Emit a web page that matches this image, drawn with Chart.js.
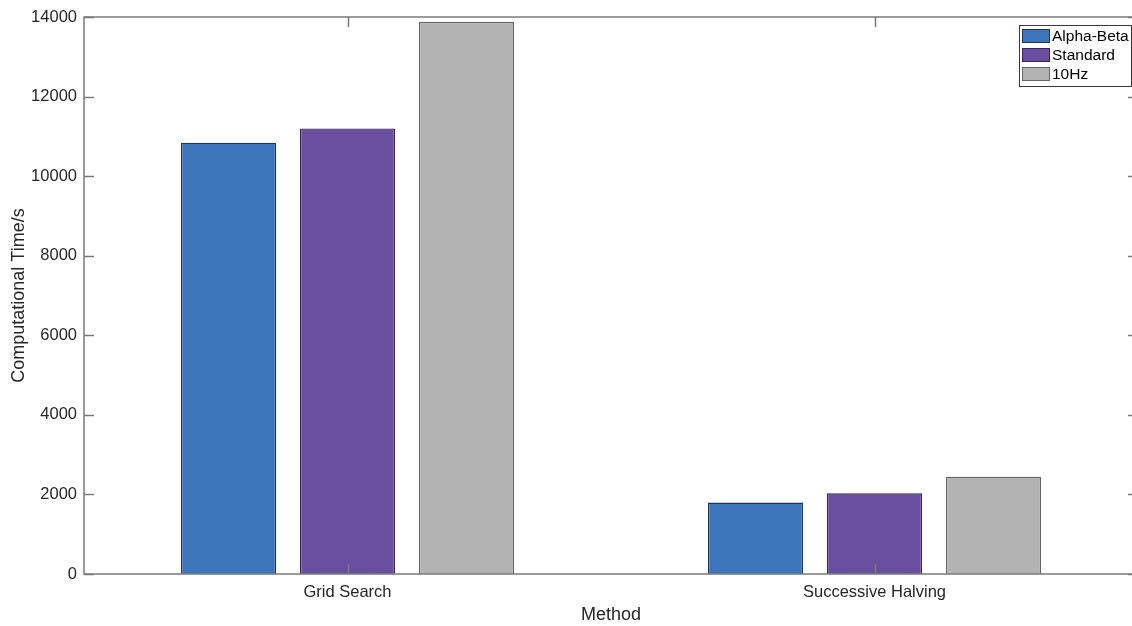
<!DOCTYPE html>
<html>
<head>
<meta charset="utf-8">
<script src="https://cdn.jsdelivr.net/npm/chart.js@4.4.0/dist/chart.umd.min.js"></script>
<style>
  html, body { margin: 0; padding: 0; overflow: hidden; background: #fff; }
  canvas { display: block; }
</style>
</head>
<body>
<canvas id="myDiagram" width="1150" height="626"></canvas>
<script>
const categories = ['Grid Search', 'Successive Halving'];
const seriesNames = ['Alpha-Beta', 'Standard', '10Hz'];
const alphaBeta = [10840, 1795];
const standard = [11200, 2030];
const tenHz = [13880, 2445];
const yTicks = [0, 2000, 4000, 6000, 8000, 10000, 12000, 14000];

const FONT = '"Liberation Sans", Arial, Helvetica, sans-serif';
const TEXT = '#262626';
const AXIS = '#7a7a7a';

// box around the axes with inward tick marks on all four sides (matlab style)
const axesBox = {
    id: 'axesBox',
    afterDatasetsDraw(chart) {
        const {ctx, chartArea: a, scales} = chart;
        const tick = 10;
        ctx.save();
        ctx.strokeStyle = AXIS;
        ctx.lineWidth = 1.5;
        ctx.strokeRect(a.left, a.top, a.right - a.left, a.bottom - a.top);
        ctx.beginPath();
        yTicks.forEach(v => {
            const y = Math.round(scales.y.getPixelForValue(v)) + 0.5;
            ctx.moveTo(a.left, y); ctx.lineTo(a.left + tick, y);
            ctx.moveTo(a.right, y); ctx.lineTo(a.right - tick, y);
        });
        categories.forEach((c, i) => {
            const x = Math.round(scales.x.getPixelForValue(i)) + 0.5;
            ctx.moveTo(x, a.bottom); ctx.lineTo(x, a.bottom - tick);
            ctx.moveTo(x, a.top); ctx.lineTo(x, a.top + tick);
        });
        ctx.stroke();
        ctx.restore();
    },
    afterDraw(chart) {
        // legend in the upper right corner, inside the axes
        const {ctx, chartArea: a} = chart;
        const sets = chart.data.datasets;
        const boxRight = 1131, boxTop = a.top + 8;
        const boxLeft = 1019, rowH = 19;
        const boxBottom = boxTop + sets.length * rowH + 4;
        ctx.save();
        ctx.fillStyle = '#fff';
        ctx.fillRect(boxLeft, boxTop, boxRight - boxLeft, boxBottom - boxTop);
        ctx.strokeStyle = '#3a3a3a';
        ctx.lineWidth = 1;
        ctx.strokeRect(boxLeft + 0.5, boxTop + 0.5, boxRight - boxLeft, boxBottom - boxTop);
        ctx.font = '15.5px ' + FONT;
        ctx.textBaseline = 'middle';
        sets.forEach((ds, i) => {
            const cy = boxTop + 11 + i * rowH;
            ctx.fillStyle = ds.backgroundColor;
            ctx.fillRect(boxLeft + 3, cy - 7, 28, 14);
            ctx.strokeStyle = ds.borderColor;
            ctx.strokeRect(boxLeft + 3.5, cy - 6.5, 27, 13);
            ctx.fillStyle = '#000';
            ctx.fillText(ds.label, boxLeft + 33, cy + 1);
        });
        ctx.restore();
    }
};

const ctx = document.getElementById('myDiagram').getContext('2d');
const myChart = new Chart(ctx, {
    type: 'bar',
    data: {
        labels: categories,
        datasets: [
            { label: seriesNames[0], data: alphaBeta, backgroundColor: '#3d75bb', borderColor: '#1f355c' },
            { label: seriesNames[1], data: standard, backgroundColor: '#6a4fa0', borderColor: '#35255e' },
            { label: seriesNames[2], data: tenHz, backgroundColor: '#b3b3b3', borderColor: '#666666' }
        ].map(d => Object.assign(d, {
            borderWidth: 1.4,
            categoryPercentage: 0.677,
            barPercentage: 0.8
        }))
    },
    options: {
        responsive: false,
        animation: false,
        layout: {
            padding: { top: 17, right: 12, left: 0, bottom: 0 }
        },
        plugins: {
            legend: { display: false },
            tooltip: { enabled: false }
        },
        scales: {
            x: {
                grid: { display: false, drawTicks: false },
                border: { display: false },
                ticks: { color: TEXT, font: { family: FONT, size: 16.5 }, padding: 9 },
                title: {
                    display: true, text: 'Method', color: TEXT,
                    font: { family: FONT, size: 18 }, padding: { top: -3, bottom: 0 }
                },
                afterFit(scale) { scale.height = 52; }
            },
            y: {
                min: 0,
                max: 14000,
                grid: { display: false, drawTicks: false },
                border: { display: false },
                afterBuildTicks(scale) { scale.ticks = yTicks.map(v => ({ value: v })); },
                ticks: {
                    color: TEXT, font: { family: FONT, size: 16.5 }, padding: 7,
                    callback: v => String(v)
                },
                title: {
                    display: true, text: 'Computational Time/s', color: TEXT,
                    font: { family: FONT, size: 18 }, padding: { top: 8, bottom: 0 }
                },
                afterFit(scale) { scale.width = 84; }
            }
        }
    },
    plugins: [axesBox]
});
</script>
</body>
</html>
